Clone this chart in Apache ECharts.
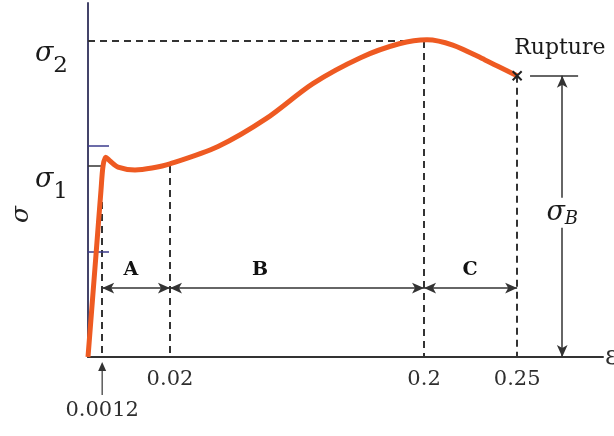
<!DOCTYPE html>
<html>
<head>
<meta charset="utf-8">
<script src="https://cdn.jsdelivr.net/npm/echarts@6/dist/echarts.min.js"></script>
<style>
  html, body { margin: 0; padding: 0; background: #fff; }
  #main { width: 614px; height: 436px; }
</style>
</head>
<body>
<div id="main"></div>
<script>
// schematic stress-strain curve (x: schematic strain position, 0.25 -> 100; y: sigma2 -> 100)
var curveX = [0, 1.86, 3.03, 3.5, 4.12, 5.13, 6.99, 10.95, 14.91, 19.1, 30.3, 41.5, 52.4, 63.5, 72.5, 79.0, 85.0, 92.5, 100];
var curveY = [0, 32.3, 52.8, 60.4, 63.2, 62.0, 60.1, 59.2, 59.8, 61.1, 66.6, 75.4, 86.5, 94.7, 99.1, 100.4, 98.7, 94.0, 89];

// strain marks: positions on the axis and their labels
var strainPos = [19.1, 78.3, 100];
var strainText = ['0.02', '0.2', '0.25'];
var yieldPos = 3.3, yieldText = '0.0012';

// stress levels
var sigma1 = 60.4, sigma2 = 100, sigmaRupture = 89;
var bluePos = [66.8, 33.2];

// regions A, B, C
var regionNames = ['A', 'B', 'C'];
var regionBounds = [3.3, 19.1, 78.3, 100];
var regionLabelX = [10, 40.1, 89];
var dimY = 21.8, dimLabelY = 27.5;

var sigmaBX = 110.5;

var dark = '#2e2e2e';
var serif = '"DejaVu Serif", "Liberation Serif", serif';

var curve = curveX.map(function (x, i) { return [x, curveY[i]]; });

function seg(x1, y1, x2, y2, style, symbols) {
  return [
    { coord: [x1, y1], symbol: symbols ? symbols[0] : 'none', lineStyle: style },
    { coord: [x2, y2], symbol: symbols ? symbols[1] : 'none' }
  ];
}
var dashed = { color: '#333', width: 2, type: [7, 5] };
var solid = { color: '#333', width: 1.5, type: 'solid' };
var blue = { color: '#3b3b8c', width: 1.5, type: 'solid' };

var lines = [
  seg(0, sigma2, strainPos[1], sigma2, dashed),
  seg(strainPos[1], sigma2, strainPos[1], 0, dashed),
  seg(strainPos[0], sigma1, strainPos[0], 0, dashed),
  seg(yieldPos, sigma1, yieldPos, 0, dashed),
  seg(strainPos[2], sigmaRupture, strainPos[2], 0, dashed),
  seg(0, sigma1, yieldPos, sigma1, solid),
  seg(0, bluePos[0], 4.9, bluePos[0], blue),
  seg(0, bluePos[1], 4.9, bluePos[1], blue),
  seg(103, sigmaRupture, 114.2, sigmaRupture, solid),
  seg(sigmaBX, sigmaRupture, sigmaBX, 0, solid, ['arrow', 'arrow'])
];
for (var i = 0; i < regionNames.length; i++) {
  lines.push(seg(regionBounds[i], dimY, regionBounds[i + 1], dimY, solid, ['arrow', 'arrow']));
}

var textPoints = regionNames.map(function (n, i) {
  return { value: [regionLabelX[i], dimLabelY], name: n };
});

var myChart = echarts.init(document.getElementById('main'));
var option = {
  animation: false,
  backgroundColor: '#fff',
  grid: { left: 88, top: 3, width: 515, height: 354, outerBoundsMode: 'none', containLabel: false },
  xAxis: {
    type: 'value', min: 0, max: 120,
    splitLine: { show: false },
    axisLine: { show: true, lineStyle: { color: '#333', width: 2 } },
    axisTick: { show: false },
    name: 'ε', nameLocation: 'end', nameGap: 2,
    nameTextStyle: { fontFamily: serif, fontSize: 26, color: dark, verticalAlign: 'middle' },
    axisLabel: {
      customValues: strainPos,
      margin: 12,
      fontFamily: serif, fontSize: 21, color: dark,
      formatter: function (v) {
        var k = strainPos.indexOf(v);
        return k >= 0 ? strainText[k] : '';
      }
    }
  },
  yAxis: {
    type: 'value', min: 0, max: 112,
    splitLine: { show: false },
    axisLine: { show: true, onZero: false, lineStyle: { color: '#44446a', width: 2 } },
    axisTick: { show: false },
    axisLabel: {
      customValues: [sigma1, sigma2],
      margin: 20,
      verticalAlign: 'top',
      formatter: function (v) {
        return v === sigma2 ? '{s|σ}{t|2}' : '{s|σ}{t|1}';
      },
      rich: {
        s: { fontFamily: serif, fontStyle: 'italic', fontSize: 27, color: '#1a1a1a', verticalAlign: 'top' },
        t: { fontFamily: serif, fontSize: 23, color: '#1a1a1a', padding: [14, 0, 0, 0] }
      }
    }
  },
  graphic: [{
    type: 'text', left: 9, top: 206, rotation: Math.PI / 2,
    style: { text: 'σ', font: 'italic 25px ' + serif, fill: '#222' }
  }],
  series: [
    {
      type: 'line',
      data: curve,
      showSymbol: false,
      smooth: 0.3,
      clip: false,
      z: 5,
      lineStyle: { color: '#ee5a22', width: 5 },
      markLine: {
        silent: true,
        symbolSize: [8, 12],
        label: { show: false },
        data: lines,
        z: 2
      }
    },
    {
      type: 'scatter',
      data: [[strainPos[2], sigmaRupture]],
      symbol: 'path://M0,0L10,10M10,0L0,10',
      symbolSize: 9,
      itemStyle: { color: 'none', borderColor: '#222', borderWidth: 2, opacity: 1 },
      z: 6,
      label: {
        show: true, position: 'right', distance: 0, offset: [-10, -27],
        formatter: 'Rupture', fontFamily: serif, fontSize: 22, color: '#1a1a1a'
      }
    },
    {
      // upward arrow pointing at the 0.0012 strain mark
      type: 'scatter',
      data: [[yieldPos, -6.8]],
      symbol: 'path://M4,0L8,9L4.6,9L4.6,33L3.4,33L3.4,9L0,9Z',
      symbolSize: [8, 33],
      clip: false,
      z: 6,
      itemStyle: { color: '#333', opacity: 1 }
    },
    {
      type: 'scatter',
      data: textPoints,
      symbolSize: 0,
      z: 6,
      itemStyle: { opacity: 1 },
      label: {
        show: true, position: 'inside', formatter: '{b}',
        fontFamily: serif, fontWeight: 'bold', fontSize: 19, color: '#111'
      }
    },
    {
      type: 'scatter',
      data: [{ value: [sigmaBX, 45.6], name: 'sB' }, { value: [yieldPos, -16.8], name: 'y' }],
      symbolSize: 0,
      z: 6,
      clip: false,
      itemStyle: { opacity: 1 },
      label: {
        show: true, position: 'inside',
        formatter: function (p) { return p.name === 'sB' ? '{s|σ}{b|B}' : '{n|' + yieldText + '}'; },
        backgroundColor: '#fff',
        rich: {
          s: { fontFamily: serif, fontStyle: 'italic', fontSize: 27, color: '#1a1a1a' },
          b: { fontFamily: serif, fontStyle: 'italic', fontSize: 18, color: '#1a1a1a', padding: [12, 0, 0, 0] },
          n: { fontFamily: serif, fontSize: 21, color: '#2e2e2e' }
        }
      }
    }
  ]
};
myChart.setOption(option);
</script>
</body>
</html>
